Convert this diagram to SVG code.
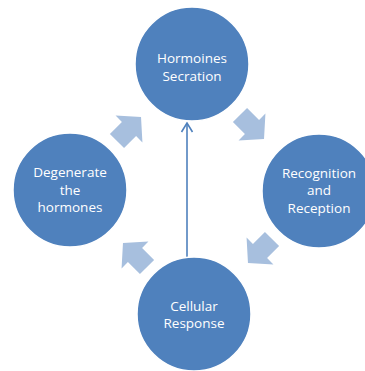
<svg xmlns="http://www.w3.org/2000/svg" width="365" height="371" viewBox="0 0 365 371">
<defs>
<style>
.node{fill:#4F81BD;stroke:#ffffff;stroke-width:1.5}
.lbl{fill:#ffffff;font-family:"Open Sans","Liberation Sans",sans-serif;font-size:13.5px;text-anchor:middle}
.cyc{fill:#A7BFDE}
.link{stroke:#4F81BD;stroke-width:1.6;fill:none}
</style>
<path id="blk" d="M-17,-10 L0,-10 L0,-19 L17,0 L0,19 L0,10 L-17,10 Z"/>
</defs>
<rect width="365" height="371" fill="#ffffff"/>
<g id="connectors">
<use href="#blk" class="cyc" transform="translate(252,127) rotate(45)"/>
<use href="#blk" class="cyc" transform="translate(260,251) rotate(135)"/>
<use href="#blk" class="cyc" transform="translate(135,255) rotate(-135)"/>
<use href="#blk" class="cyc" transform="translate(129,129) rotate(-45)"/>
<line class="link" x1="187" y1="258" x2="187" y2="123"/>
<polyline class="link" points="181.5,132 187,123 192.5,132"/>
</g>
<g id="node-top">
<circle class="node" cx="192" cy="64" r="57"/>
<text class="lbl" x="192" y="63">Hormoines</text>
<text class="lbl" x="192" y="81">Secration</text>
</g>
<g id="node-right">
<circle class="node" cx="319" cy="191" r="57"/>
<text class="lbl" x="319" y="177.5">Recognition</text>
<text class="lbl" x="319" y="195">and</text>
<text class="lbl" x="319" y="212.5">Reception</text>
</g>
<g id="node-bottom">
<circle class="node" cx="194" cy="314" r="57"/>
<text class="lbl" x="194" y="311">Cellular</text>
<text class="lbl" x="194" y="328">Response</text>
</g>
<g id="node-left">
<circle class="node" cx="70" cy="190" r="57"/>
<text class="lbl" x="70" y="177">Degenerate</text>
<text class="lbl" x="70" y="194.5">the</text>
<text class="lbl" x="70" y="212">hormones</text>
</g>
</svg>
